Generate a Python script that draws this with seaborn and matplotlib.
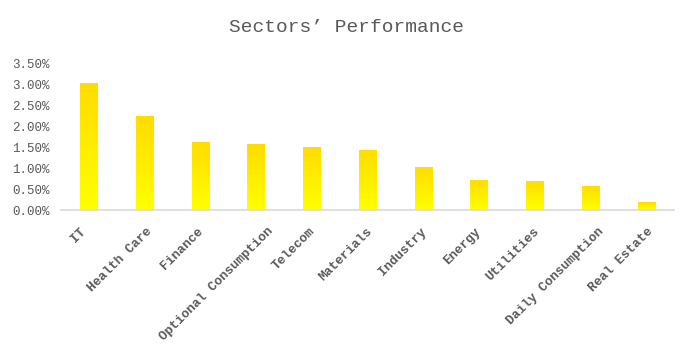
import numpy as np
import pandas as pd
import matplotlib
matplotlib.use("Agg")
import matplotlib.pyplot as plt
import matplotlib.transforms as mtransforms
import seaborn as sns
from matplotlib.colors import LinearSegmentedColormap
from matplotlib.ticker import FuncFormatter

sectors = ["IT", "Health Care", "Finance", "Optional Consumption", "Telecom",
           "Materials", "Industry", "Energy", "Utilities", "Daily Consumption",
           "Real Estate"]
performance = [3.02, 2.23, 1.63, 1.56, 1.51, 1.44, 1.03, 0.72, 0.70, 0.58, 0.19]
title_text = "Sectors\u2019 Performance"

sns.set_theme(style="white")
plt.rcParams['font.family'] = ['Liberation Mono', 'DejaVu Sans']

df = pd.DataFrame({"sector": sectors, "perf": performance})

fig = plt.figure(figsize=(6.93, 3.58), dpi=100)
ax = fig.add_axes([0.088, 0.4134, 0.8846, 0.4106])

sns.barplot(data=df, x="sector", y="perf", color="#FFE800", width=0.31,
            ax=ax, saturation=1)

cmap = LinearSegmentedColormap.from_list("g", ["#FFFF00", "#FFDC00"])
grad = np.linspace(0, 1, 256).reshape(-1, 1)
for p in ax.patches:
    x0, y0 = p.get_x(), p.get_y()
    w, h = p.get_width(), p.get_height()
    im = ax.imshow(grad, cmap=cmap, aspect="auto", origin="lower",
                   extent=[x0, x0 + w, y0, y0 + h], zorder=p.get_zorder() + 0.1)
    im.set_clip_path(p)

ax.set_xlim(-0.5, len(sectors) - 0.5)
ax.set_ylim(0, 3.5)
ax.set_yticks(np.arange(0, 3.51, 0.5))
ax.yaxis.set_major_formatter(FuncFormatter(lambda v, _: f"{v:.2f}%"))
ax.set_xlabel("")
ax.set_ylabel("")

for s in ["top", "right", "left"]:
    ax.spines[s].set_visible(False)
ax.spines["bottom"].set_color("#D9D9D9")
ax.spines["bottom"].set_linewidth(1.2)

ax.tick_params(axis="y", length=0, labelsize=9, labelcolor="#595959", pad=8)
ax.tick_params(axis="x", length=0, labelsize=9.3, labelcolor="#595959", pad=14)
for lab in ax.get_xticklabels():
    lab.set_rotation(45)
    lab.set_ha("right")
    lab.set_va("center")
    lab.set_rotation_mode("anchor")
    lab.set_fontweight("bold")
    n = len(lab.get_text())
    dx = (-7 + 1.1 * n) / 72.0 * 0.72
    lab.set_transform(lab.get_transform() +
                      mtransforms.ScaledTranslation(dx, 0, fig.dpi_scale_trans))

fig.text(0.5, 1 - 27 / 358, title_text, ha="center", va="center",
         fontsize=14, color="#595959", family=['Liberation Mono', 'DejaVu Sans'])

fig.savefig("out.png", dpi=100, facecolor="white")
